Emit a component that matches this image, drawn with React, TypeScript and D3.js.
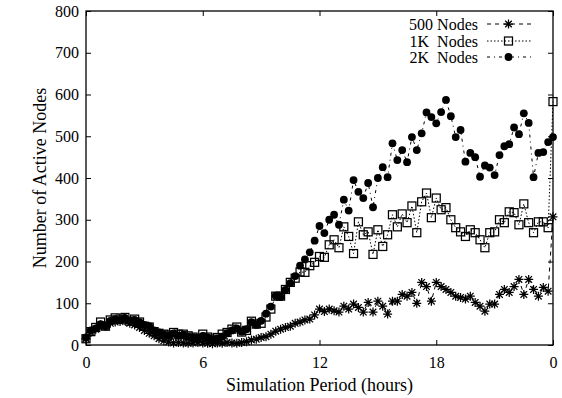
import { useRef, useEffect, useMemo } from 'react';
import * as d3 from 'd3';

// sampling step of the simulation log, in hours
const STEP_HOURS = 0.25;

const seriesNames = ['500 Nodes', '1K  Nodes', '2K  Nodes'];

const nodes500 = [
  15, 30, 38, 48, 45, 52, 55, 56, 58, 52, 48, 42, 35, 28, 22, 15,
  10, 7, 5, 6, 5, 4, 5, 6, 5, 4, 3, 5, 4, 6, 5, 4,
  6, 8, 12, 14, 18, 20, 26, 33, 38, 42, 45, 52, 55, 60, 62, 72,
  86, 80, 86, 82, 79, 93, 86, 98, 90, 79, 102, 79, 105, 93, 74, 105,
  105, 121, 117, 126, 100, 150, 140, 105, 150, 140, 133, 126, 117, 114, 110, 117,
  102, 93, 81, 98, 98, 121, 133, 126, 140, 157, 121, 157, 133, 117, 138, 129,
  307,
];

const nodes1K = [
  15, 32, 42, 55, 45, 60, 65, 62, 66, 57, 62, 55, 45, 43, 32, 28,
  26, 24, 30, 26, 26, 22, 19, 16, 26, 19, 14, 18, 26, 30, 38, 43,
  31, 35, 57, 50, 52, 67, 86, 117, 117, 133, 150, 160, 175, 174, 190, 198,
  212, 210, 240, 252, 233, 283, 260, 219, 295, 264, 271, 217, 276, 236, 264, 312,
  283, 314, 293, 333, 269, 343, 364, 305, 352, 324, 329, 300, 281, 271, 260, 276,
  269, 252, 233, 269, 271, 300, 293, 319, 317, 288, 338, 293, 269, 295, 295, 281,
  583,
];

const nodes2K = [
  18, 35, 40, 50, 45, 58, 62, 60, 65, 58, 60, 55, 48, 45, 35, 30,
  25, 22, 28, 22, 25, 20, 18, 15, 22, 18, 12, 15, 20, 28, 35, 40,
  32, 38, 55, 48, 58, 75, 92, 118, 115, 132, 148, 165, 190, 205, 222, 250,
  285, 268, 300, 312, 288, 348, 322, 395, 367, 352, 388, 330, 400, 426, 402, 483,
  443, 467, 438, 498, 467, 507, 557, 546, 531, 558, 587, 548, 498, 515, 439, 460,
  450, 403, 430, 425, 407, 455, 476, 481, 521, 505, 555, 532, 402, 460, 462, 486,
  498,
];

const xTickValues = [0, 6, 12, 18, 24];
const xTickLabels = ['0', '6', '12', '18', '0'];
const yTickValues = [0, 100, 200, 300, 400, 500, 600, 700, 800];

const FONT = '"Liberation Serif", "Times New Roman", serif';

type MarkerKind = 'star' | 'square' | 'dot';

const Marker = ({ kind, x, y }: { kind: MarkerKind; x: number; y: number }) => {
  if (kind === 'star') {
    return (
      <path
        transform={`translate(${x},${y})`}
        d="M-4.5,0H4.5M0,-4.5V4.5M-3.3,-3.3L3.3,3.3M-3.3,3.3L3.3,-3.3"
        stroke="#000"
        strokeWidth={1.25}
        fill="none"
      />
    );
  }
  if (kind === 'square') {
    return <rect x={x - 4} y={y - 4} width={8} height={8} fill="none" stroke="#000" strokeWidth={1.25} />;
  }
  return <circle cx={x} cy={y} r={3.9} fill="#000" />;
};

export default function App() {
  const width = 562;
  const height = 398;
  const margin = useMemo(() => ({ top: 11, right: 9, bottom: 53, left: 86 }), []);

  const gxBottom = useRef<SVGGElement>(null);
  const gxTop = useRef<SVGGElement>(null);
  const gyLeft = useRef<SVGGElement>(null);
  const gyRight = useRef<SVGGElement>(null);

  const x = useMemo(
    () => d3.scaleLinear().domain([0, 24]).range([margin.left, width - margin.right]),
    [margin],
  );
  const y = useMemo(
    () => d3.scaleLinear().domain([0, 800]).range([height - margin.bottom, margin.top]),
    [margin],
  );

  const series = [
    { name: seriesNames[0], values: nodes500, kind: 'star' as MarkerKind, dash: '4,4' },
    { name: seriesNames[1], values: nodes1K, kind: 'square' as MarkerKind, dash: '1.5,2' },
    { name: seriesNames[2], values: nodes2K, kind: 'dot' as MarkerKind, dash: '3,4,1,4' },
  ];

  const line = d3
    .line<number>()
    .x((_, i) => x(i * STEP_HOURS))
    .y((d) => y(d));

  useEffect(() => {
    const style = (sel: d3.Selection<SVGGElement, unknown, null, undefined>) => {
      sel.select('.domain').remove();
      sel.selectAll('line').attr('stroke', '#000').attr('stroke-width', 1);
      sel.selectAll('text').attr('font-family', FONT).attr('font-size', 16).attr('fill', '#000');
    };
    if (gxBottom.current) {
      const s = d3.select(gxBottom.current);
      s.call(
        d3
          .axisBottom(x)
          .tickValues(xTickValues)
          .tickSize(-5)
          .tickPadding(12)
          .tickFormat((_, i) => xTickLabels[i]),
      );
      style(s);
    }
    if (gxTop.current) {
      const s = d3.select(gxTop.current);
      s.call(d3.axisTop(x).tickValues(xTickValues).tickSize(-5).tickFormat(() => ''));
      style(s);
    }
    if (gyLeft.current) {
      const s = d3.select(gyLeft.current);
      s.call(d3.axisLeft(y).tickValues(yTickValues).tickSize(-5).tickPadding(7));
      style(s);
    }
    if (gyRight.current) {
      const s = d3.select(gyRight.current);
      s.call(d3.axisLeft(y).tickValues(yTickValues).tickSize(5).tickFormat(() => ''));
      style(s);
    }
  }, [x, y]);

  const legendTextX = 478;
  const legendLineX1 = 487;
  const legendLineX2 = 532;
  const legendRows = [24, 41, 57];

  return (
    <svg
      width={width}
      height={height}
      style={{ position: 'absolute', left: 0, top: 0, background: '#fff' }}
    >
      <rect x={0} y={0} width={width} height={height} fill="#fff" />
      <g ref={gxBottom} transform={`translate(0,${height - margin.bottom})`} />
      <g ref={gxTop} transform={`translate(0,${margin.top})`} />
      <g ref={gyLeft} transform={`translate(${margin.left},0)`} />
      <g ref={gyRight} transform={`translate(${width - margin.right},0)`} />

      {series.map((s) => (
        <g key={s.name}>
          <path d={line(s.values)!} fill="none" stroke="#000" strokeWidth={1} strokeDasharray={s.dash} />
          {s.values.map((v, i) => (
            <Marker key={i} kind={s.kind} x={x(i * STEP_HOURS)} y={y(v)} />
          ))}
        </g>
      ))}

      <rect
        x={margin.left}
        y={margin.top}
        width={width - margin.left - margin.right}
        height={height - margin.top - margin.bottom}
        fill="none"
        stroke="#000"
        strokeWidth={1.3}
      />

      {series.map((s, i) => (
        <g key={`legend-${s.name}`}>
          <text
            x={legendTextX}
            y={legendRows[i]}
            dy="0.35em"
            textAnchor="end"
            fontFamily={FONT}
            fontSize={16}
            style={{ whiteSpace: 'pre' }}
          >
            {s.name}
          </text>
          <line
            x1={legendLineX1}
            x2={legendLineX2}
            y1={legendRows[i]}
            y2={legendRows[i]}
            stroke="#000"
            strokeWidth={1}
            strokeDasharray={s.dash}
          />
          <Marker kind={s.kind} x={(legendLineX1 + legendLineX2) / 2 - 1} y={legendRows[i]} />
        </g>
      ))}

      <text
        transform={`translate(40,${(margin.top + height - margin.bottom) / 2}) rotate(-90)`}
        textAnchor="middle"
        dy="0.35em"
        fontFamily={FONT}
        fontSize={18}
      >
        Number of Active Nodes
      </text>
      <text
        x={(margin.left + width - margin.right) / 2}
        y={391}
        textAnchor="middle"
        fontFamily={FONT}
        fontSize={18}
      >
        Simulation Period (hours)
      </text>
    </svg>
  );
}
